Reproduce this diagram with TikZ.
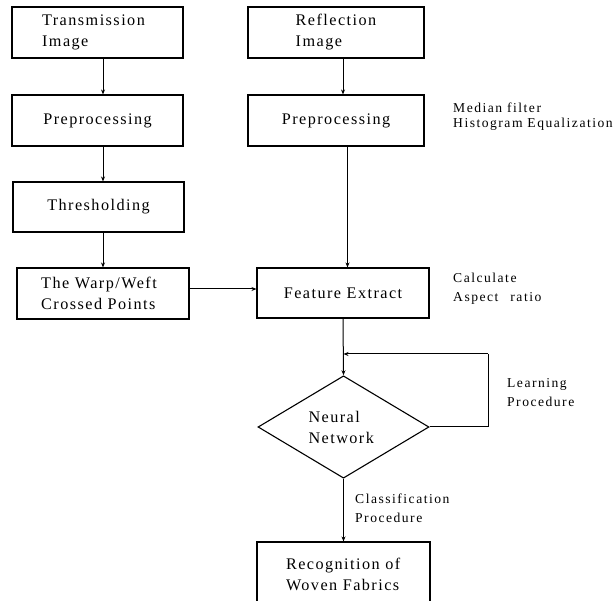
\documentclass[tikz,border=0pt]{standalone}
\usepackage{fontspec}
\setmainfont{Liberation Serif}
\newfontfamily\boxfont[LetterSpace=9]{Liberation Serif}
\newfontfamily\notefont[LetterSpace=11]{Liberation Serif}
\usetikzlibrary{shapes.geometric,arrows.meta}
\begin{document}
\begin{tikzpicture}[x=1pt,y=-1pt,
  every node/.style={inner sep=0pt},
  procbox/.style={draw,line width=1.1pt,align=left,font=\boxfont\fontsize{16.2}{21}\selectfont},
  decide/.style={draw,diamond,line width=1.1pt,align=left,minimum width=171pt,minimum height=100pt,font=\boxfont\fontsize{16.2}{21}\selectfont},
  note/.style={anchor=base west,align=left,font=\notefont\fontsize{13.6}{19}\selectfont},
  arr/.style={line width=1pt,-{Stealth[length=5pt,width=4pt]}},
  line/.style={line width=1pt}]
\useasboundingbox (0,0) rectangle (616,601);
\clip (0,0) rectangle (616,601);
% left column
\node[procbox,minimum width=171pt,minimum height=51pt] (trans) at (97.5,32.5) {\hspace*{-8pt}Transmission\\\hspace*{-8pt}Image};
\node[procbox,minimum width=171pt,minimum height=51pt] (pre1) at (97.5,120.5) {Preprocessing};
\node[procbox,minimum width=171pt,minimum height=50pt] (thr) at (98.5,207) {Thresholding};
\node[procbox,minimum width=172pt,minimum height=51pt] (warp) at (103,293.5) {\hspace*{-8pt}The Warp/Weft\\\hspace*{-8pt}Crossed Points};
% right column
\node[procbox,minimum width=176pt,minimum height=51pt] (refl) at (336,32.5) {Reflection\\Image};
\node[procbox,minimum width=176pt,minimum height=51pt] (pre2) at (336,120.5) {Preprocessing};
\node[procbox,minimum width=172pt,minimum height=50pt] (feat) at (343,293) {Feature Extract};
\node[decide] (nn) at (343.5,427) {\raisebox{-5pt}{\parbox{70pt}{Neural\\Network}}};
\node[procbox,minimum width=173pt,minimum height=64pt] (recog) at (343.5,574) {\raisebox{-6pt}{\parbox{115pt}{Recognition of\\Woven Fabrics}}};
% notes
\node[note,font=\notefont\fontsize{13.6}{15}\selectfont] (n1) at (453,128) {Median filter\\Histogram Equalization};
\node[note] (n2) at (453,302) {Calculate\\Aspect\hspace{12pt}ratio};
\node[note] (n3) at (507,407) {Learning\\Procedure};
\node[note] (n4) at (355,522) {Classification\\Procedure};
% connectors
\draw[arr] (trans.south -| warp.north) -- (pre1.north -| warp.north);
\draw[arr] (pre1.south -| warp.north) -- (thr.north -| warp.north);
\draw[arr] (thr.south -| warp.north) -- (warp.north);
\draw[arr] (refl.south -| feat.north) -- (pre2.north -| feat.north);
\coordinate (rx) at (347.5,0);
\draw[arr] (pre2.south -| rx) -- (feat.north -| rx);
\draw[arr] (warp.east |- 0,289) -- (feat.west |- 0,289);
\draw[arr] (feat.south) -- (nn.north);
\coordinate (lc) at (488,354);
\coordinate (lj) at (343.5,354);
\draw[line] (nn.east) -| (lc);
\draw[arr] (lc) -- (lj);
\draw[arr] (nn.south) -- (recog.north);
\end{tikzpicture}
\end{document}
